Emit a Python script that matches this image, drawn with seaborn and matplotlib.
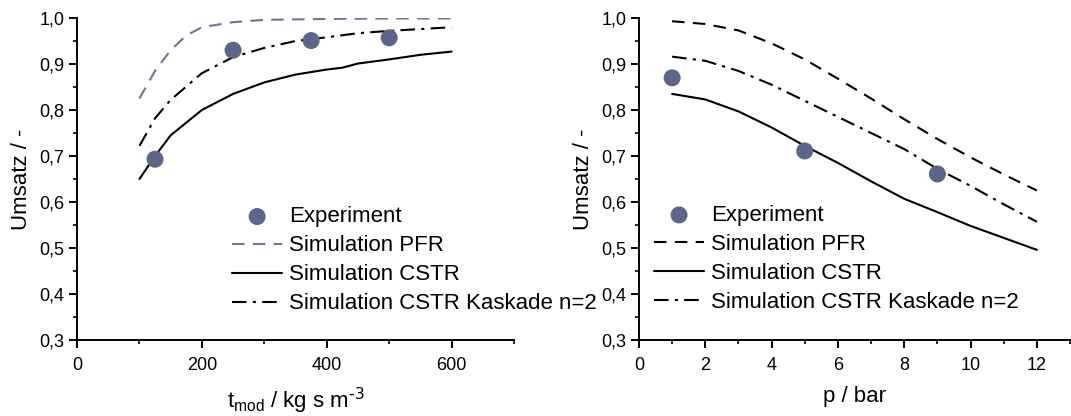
import numpy as np
import pandas as pd
import matplotlib
matplotlib.use("Agg")
import matplotlib.pyplot as plt
from matplotlib.ticker import MultipleLocator, FuncFormatter
import seaborn as sns

# --- conversion vs. modified residence time ---
t_exp = [125, 250, 375, 500]
x_exp_t = [0.693, 0.930, 0.951, 0.957]

t_pfr = [100, 125, 150, 175, 200, 250, 300, 400, 500, 600]
x_pfr_t = [0.825, 0.885, 0.930, 0.962, 0.980, 0.991, 0.996, 0.998, 0.999, 0.999]

t_cstr = [100, 125, 150, 200, 250, 300, 350, 400, 425, 450, 500, 550, 600]
x_cstr_t = [0.650, 0.700, 0.745, 0.800, 0.835, 0.860, 0.877, 0.888, 0.892, 0.901, 0.910, 0.920, 0.927]

t_kas = [100, 125, 150, 200, 250, 300, 350, 400, 450, 500, 550, 600]
x_kas_t = [0.722, 0.782, 0.822, 0.880, 0.915, 0.935, 0.950, 0.958, 0.967, 0.972, 0.976, 0.980]

# --- conversion vs. pressure ---
p_exp = [1, 5, 9]
x_exp_p = [0.870, 0.711, 0.661]

p_sim = [1, 2, 3, 4, 5, 6, 7, 8, 9, 10, 11, 12]
x_pfr_p = [0.993, 0.987, 0.973, 0.945, 0.910, 0.868, 0.825, 0.780, 0.737, 0.697, 0.660, 0.625]
x_cstr_p = [0.835, 0.823, 0.797, 0.762, 0.722, 0.685, 0.645, 0.607, 0.578, 0.548, 0.522, 0.496]
x_kas_p = [0.916, 0.907, 0.885, 0.855, 0.820, 0.785, 0.750, 0.715, 0.672, 0.635, 0.595, 0.557]

labels = ["Experiment", "Simulation PFR", "Simulation CSTR", "Simulation CSTR Kaskade n=2"]

sns.set_theme(style="ticks")
plt.rcParams["font.family"] = ["Liberation Sans", "DejaVu Sans"]
plt.rcParams.update({
    "axes.linewidth": 1.4,
    "xtick.major.width": 1.4, "ytick.major.width": 1.4,
    "xtick.minor.width": 1.2, "ytick.minor.width": 1.2,
    "xtick.major.size": 6, "ytick.major.size": 6,
    "xtick.minor.size": 3, "ytick.minor.size": 3,
    "xtick.color": "black", "ytick.color": "black",
    "xtick.labelcolor": "black", "ytick.labelcolor": "black",
    "axes.edgecolor": "black", "axes.labelcolor": "black",
    "text.color": "black",
})

marker_color = "#5b6688"
pfr_color_left = "#6b7698"
lw = 1.5
dash = (6, 4)
dashdot = (7, 3, 1.5, 3)

fig = plt.figure(figsize=(10.71, 4.16), dpi=100)
ax1 = fig.add_axes([0.0719, 0.1827, 0.408, 0.774])
ax2 = fig.add_axes([0.5966, 0.1827, 0.4025, 0.774])

comma = FuncFormatter(lambda v, pos: f"{v:.1f}".replace(".", ","))


def style_axis(ax, xmax, xmajor, xminor, xlabel):
    ax.set_xlim(0, xmax)
    ax.set_ylim(0.3, 1.0)
    ax.xaxis.set_major_locator(MultipleLocator(xmajor))
    ax.xaxis.set_minor_locator(MultipleLocator(xminor))
    ax.yaxis.set_major_locator(MultipleLocator(0.1))
    ax.yaxis.set_minor_locator(MultipleLocator(0.05))
    ax.yaxis.set_major_formatter(comma)
    ax.tick_params(axis="both", which="both", direction="out", labelsize=13)
    ax.tick_params(axis="x", pad=6)
    ax.tick_params(axis="y", pad=3)
    ax.set_ylabel("Umsatz / -", fontsize=16, labelpad=5)
    ax.set_xlabel(xlabel, fontsize=16, labelpad=9)
    sns.despine(ax=ax)


def legend(ax, x0, y0):
    h, l = ax.get_legend_handles_labels()
    order = [l.index(name) for name in labels]
    ax.legend([h[i] for i in order], [l[i] for i in order], loc="upper left",
              bbox_to_anchor=(x0, y0), frameon=False, fontsize=16,
              handlelength=2.25, handletextpad=0.32, labelspacing=0.36,
              borderpad=0, borderaxespad=0)


# left panel: residence time
l = sns.lineplot(x=t_pfr, y=x_pfr_t, ax=ax1, color=pfr_color_left, lw=lw, label=labels[1])
l.lines[-1].set_dashes(dash)
sns.lineplot(x=t_cstr, y=x_cstr_t, ax=ax1, color="black", lw=lw, label=labels[2])
l = sns.lineplot(x=t_kas, y=x_kas_t, ax=ax1, color="black", lw=lw, label=labels[3])
l.lines[-1].set_dashes(dashdot)
sns.scatterplot(x=t_exp, y=x_exp_t, ax=ax1, color=marker_color, s=150,
                edgecolor="none", label=labels[0], zorder=5)
style_axis(ax1, 700, 200, 100, r"t$_\mathregular{mod}$ / kg s m$^{\text{-3}}$")
legend(ax1, 0.355, 0.415)

# right panel: pressure
l = sns.lineplot(x=p_sim, y=x_pfr_p, ax=ax2, color="black", lw=lw, label=labels[1])
l.lines[-1].set_dashes(dash)
sns.lineplot(x=p_sim, y=x_cstr_p, ax=ax2, color="black", lw=lw, label=labels[2])
l = sns.lineplot(x=p_sim, y=x_kas_p, ax=ax2, color="black", lw=lw, label=labels[3])
l.lines[-1].set_dashes(dashdot)
sns.scatterplot(x=p_exp, y=x_exp_p, ax=ax2, color=marker_color, s=150,
                edgecolor="none", label=labels[0], zorder=5)
style_axis(ax2, 13, 2, 1, "p / bar")
legend(ax2, 0.035, 0.42)

fig.savefig("out.png", dpi=100)
